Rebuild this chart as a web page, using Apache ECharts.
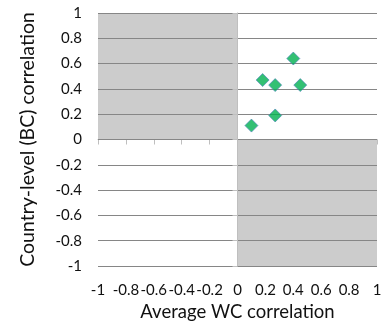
<!DOCTYPE html>
<html>
<head>
<meta charset="utf-8">
<script src="https://cdn.jsdelivr.net/npm/echarts@6/dist/echarts.min.js"></script>
<style>
  html, body { margin: 0; padding: 0; background: #fff; }
  #chart { width: 387px; height: 327px; }
</style>
</head>
<body>
<div id="chart"></div>
<script>
var wcCorr = [0.40, 0.18, 0.27, 0.45, 0.27, 0.10];   // Average WC correlation
var bcCorr = [0.64, 0.47, 0.43, 0.43, 0.19, 0.11];   // Country-level (BC) correlation
var shadeQuadrants = [
    [[-1, 0], [0, 1]],
    [[0, -1], [1, 0]]
];

window.onload = function () {
    var chart = echarts.init(document.getElementById('chart'));
    var pts = [];
    for (var i = 0; i < wcCorr.length; i++) {
        pts.push([wcCorr[i], bcCorr[i]]);
    }
    var areas = shadeQuadrants.map(function (q) {
        return [{ coord: q[0] }, { coord: q[1] }];
    });
    var font = 'Lato, "Open Sans", sans-serif';

    var option = {
        animation: false,
        grid: { left: 98, right: 10, top: 13, bottom: 59 },
        xAxis: {
            type: 'value', min: -1, max: 1, interval: 0.2,
            name: 'Average WC correlation',
            nameLocation: 'middle', nameGap: 37,
            nameTextStyle: { fontFamily: font, fontSize: 18.5, color: '#111' },
            axisLine: { lineStyle: { color: '#bfbfbf' } },
            axisTick: { show: true, length: 5, lineStyle: { color: '#bfbfbf' } },
            axisLabel: {
                fontFamily: font, fontSize: 15, color: '#111', margin: 17,
                hideOverlap: false,
                formatter: function (v) { return +v.toFixed(1) + ''; }
            },
            splitLine: { show: false }
        },
        yAxis: {
            type: 'value', min: -1, max: 1, interval: 0.2, z: 3,
            name: 'Country-level (BC) correlation',
            nameLocation: 'middle', nameGap: 60, nameRotate: 90,
            nameTextStyle: { fontFamily: font, fontSize: 19.5, color: '#111' },
            axisLine: { show: true, lineStyle: { color: '#bfbfbf' } },
            axisTick: { show: true, length: 5, lineStyle: { color: '#bfbfbf' } },
            axisLabel: {
                fontFamily: font, fontSize: 15, color: '#111', margin: 16,
                formatter: function (v) { return +v.toFixed(1) + ''; }
            },
            splitLine: { show: true, lineStyle: { color: '#868686', width: 1 } }
        },
        series: [
            {
                type: 'scatter', z: 1, data: [], silent: true,
                markArea: {
                    silent: true,
                    itemStyle: { color: '#cccccc' },
                    data: areas
                }
            },
            {
                type: 'scatter', z: 5,
                symbol: 'diamond', symbolSize: 13,
                itemStyle: { color: '#00b050', borderColor: '#4f81bd', borderWidth: 0.8 },
                data: pts
            }
        ]
    };
    chart.setOption(option);
};
</script>
</body>
</html>
